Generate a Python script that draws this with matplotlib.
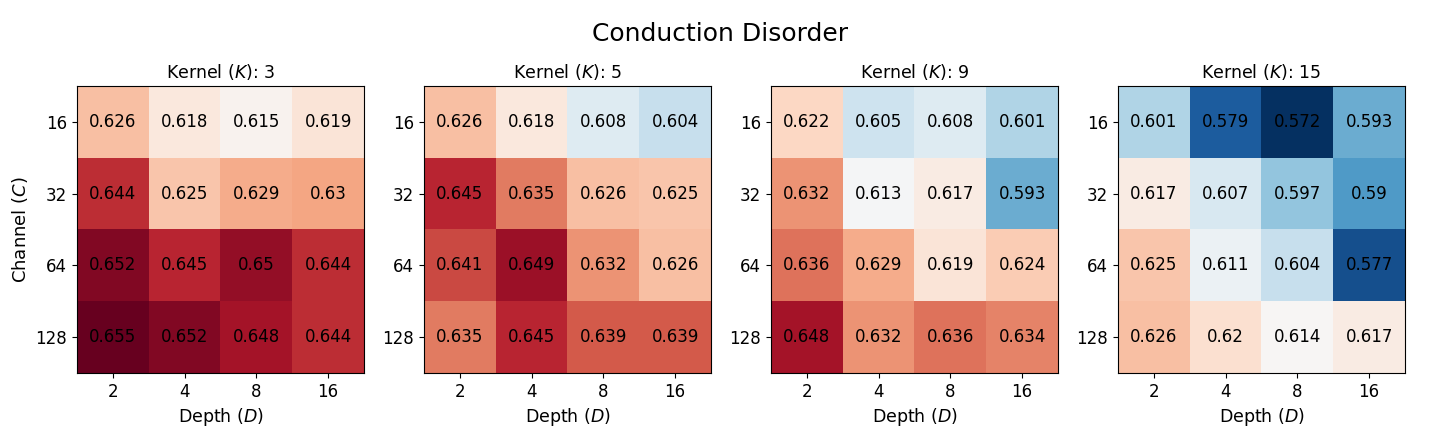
import matplotlib
matplotlib.use("Agg")
import matplotlib.pyplot as plt
import numpy as np

kernels = [3, 5, 9, 15]
channels = [16, 32, 64, 128]
depths = [2, 4, 8, 16]

# rows: channel, cols: depth
k3 = [[0.626, 0.618, 0.615, 0.619],
      [0.644, 0.625, 0.629, 0.63],
      [0.652, 0.645, 0.65, 0.644],
      [0.655, 0.652, 0.648, 0.644]]
k5 = [[0.626, 0.618, 0.608, 0.604],
      [0.645, 0.635, 0.626, 0.625],
      [0.641, 0.649, 0.632, 0.626],
      [0.635, 0.645, 0.639, 0.639]]
k9 = [[0.622, 0.605, 0.608, 0.601],
      [0.632, 0.613, 0.617, 0.593],
      [0.636, 0.629, 0.619, 0.624],
      [0.648, 0.632, 0.636, 0.634]]
k15 = [[0.601, 0.579, 0.572, 0.593],
       [0.617, 0.607, 0.597, 0.59],
       [0.625, 0.611, 0.604, 0.577],
       [0.626, 0.62, 0.614, 0.617]]

grids = [np.array(g) for g in (k3, k5, k9, k15)]
vmin = min(g.min() for g in grids)
vmax = max(g.max() for g in grids)

fig = plt.figure(figsize=(14.4, 4.32), dpi=100)
fig.suptitle("Conduction Disorder", fontsize=18, y=0.948)

for i, (k, g) in enumerate(zip(kernels, grids)):
    ax = fig.add_axes([(77 + 347 * i) / 1440, 1 - 373 / 432, 287 / 1440, 287 / 432])
    ax.imshow(g, cmap="RdBu_r", vmin=vmin, vmax=vmax, aspect="auto")
    for r in range(len(channels)):
        for c in range(len(depths)):
            ax.text(c, r, f"{g[r, c]:g}", ha="center", va="center",
                    color="black", fontsize=12)
    ax.set_xticks(range(len(depths)))
    ax.set_xticklabels(depths, fontsize=12)
    ax.set_yticks(range(len(channels)))
    ax.set_yticklabels(channels, fontsize=12)
    ax.set_xlabel("Depth ($D$)", fontsize=12.5)
    ax.set_title(f"Kernel ($K$): {k}", fontsize=12.5)
    if i == 0:
        ax.set_ylabel("Channel ($C$)", fontsize=13)

fig.savefig("out.png", dpi=100)
